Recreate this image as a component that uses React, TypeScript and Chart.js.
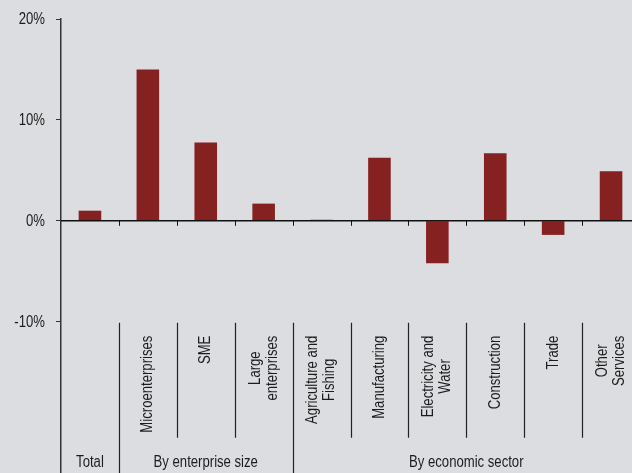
import { useEffect, useRef } from 'react';
import { Chart, registerables } from 'chart.js';

Chart.register(...registerables);

// Real growth by segment, in percent
const categories = [
  'Total',
  'Microenterprises',
  'SME',
  'Large enterprises',
  'Agriculture and Fishing',
  'Manufacturing',
  'Electricity and Water',
  'Construction',
  'Trade',
  'Other Services',
];
const growth = [1.0, 15.0, 7.75, 1.7, 0.1, 6.25, -4.2, 6.7, -1.4, 4.9];

// Rotated labels written under each bar (the total has none)
const axisLabelLines = [
  [],
  ['Microenterprises'],
  ['SME'],
  ['Large', 'enterprises'],
  ['Agriculture and', 'Fishing'],
  ['Manufacturing'],
  ['Electricity and', 'Water'],
  ['Construction'],
  ['Trade'],
  ['Other', 'Services'],
];

// Grouping row at the bottom: name, first and last category index
const groupNames = ['Total', 'By enterprise size', 'By economic sector'];
const groupFirst = [0, 1, 4];
const groupLast = [0, 3, 9];

const yTicks = [-10, 0, 10, 20];
const yMin = -25;
const yMax = 20;

// Liberation Sans squeezed horizontally, giving a narrow face
const FONT = '"Liberation Sans", Arial, sans-serif';
const NARROW = 0.82;
const TEXT = '#1c1c1c';
const BAR = '#852121';
const BG = '#dcdde0';

function narrowText(ctx: any, text: string, x: number, y: number) {
  ctx.save();
  ctx.translate(x, y);
  ctx.scale(NARROW, 1);
  ctx.fillText(text, 0, 0);
  ctx.restore();
}

const categoryAxis = {
  id: 'categoryAxis',
  afterDraw(chart: any) {
    const ctx = chart.ctx;
    const xs = chart.scales.x;
    const ys = chart.scales.y;
    const { left, right } = chart.chartArea;
    const n = categories.length;
    const half = (right - left) / n / 2;
    const bound = (i: number) =>
      i >= n ? right : i <= 0 ? left : xs.getPixelForValue(i) - half;
    const y0 = ys.getPixelForValue(0);
    const sepTop = ys.getPixelForValue(-10) + 1;
    const sepBottom = ys.getPixelForValue(-21.5);
    const groupStarts = new Set(groupFirst);

    ctx.save();
    // zero line and its tick marks
    ctx.strokeStyle = '#111';
    ctx.lineWidth = 1.5;
    ctx.beginPath();
    ctx.moveTo(left, y0);
    ctx.lineTo(right, y0);
    ctx.stroke();
    ctx.lineWidth = 1;
    ctx.beginPath();
    for (let i = 1; i < n; i++) {
      const bx = Math.round(bound(i)) + 0.5;
      ctx.moveTo(bx, y0);
      ctx.lineTo(bx, y0 + 5);
    }
    ctx.stroke();

    // separators in the label table
    ctx.strokeStyle = '#222';
    ctx.lineWidth = 1.2;
    ctx.beginPath();
    for (let i = 1; i < n; i++) {
      const bx = Math.round(bound(i)) + 0.5;
      ctx.moveTo(bx, sepTop);
      ctx.lineTo(bx, groupStarts.has(i) ? chart.height : sepBottom);
    }
    ctx.stroke();

    ctx.fillStyle = TEXT;
    ctx.font = `16px ${FONT}`;

    // value axis labels
    ctx.textAlign = 'right';
    ctx.textBaseline = 'middle';
    ys.ticks.forEach((t: any) => {
      narrowText(ctx, `${t.value}%`, left - 16, ys.getPixelForValue(t.value) + 1);
    });

    // rotated category labels, hanging from the same top line
    ctx.textAlign = 'center';
    const labelTop = sepTop + 13;
    const lineH = 17;
    axisLabelLines.forEach((lines, i) => {
      if (!lines.length) return;
      const w = NARROW * Math.max(...lines.map((l) => ctx.measureText(l).width));
      const cx = xs.getPixelForValue(i);
      ctx.save();
      ctx.translate(cx, labelTop + w / 2);
      ctx.rotate(-Math.PI / 2);
      lines.forEach((l, k) => {
        narrowText(ctx, l, 0, (k - (lines.length - 1) / 2) * lineH);
      });
      ctx.restore();
    });

    // group names
    ctx.textBaseline = 'alphabetic';
    groupNames.forEach((g, j) => {
      const gx = (bound(groupFirst[j]) + bound(groupLast[j] + 1)) / 2;
      narrowText(ctx, g, gx, chart.height - 6);
    });
    ctx.restore();
  },
};

export default function App() {
  const ref = useRef<HTMLCanvasElement>(null);

  useEffect(() => {
    if (!ref.current) return;
    const chart = new Chart(ref.current, {
      type: 'bar',
      data: {
        labels: categories,
        datasets: [
          {
            data: growth,
            backgroundColor: BAR,
            borderWidth: 0,
            barPercentage: 0.39,
            categoryPercentage: 1,
          },
        ],
      },
      options: {
        animation: false,
        responsive: false,
        layout: { padding: { top: 19, right: 0, bottom: 0, left: 0 } },
        plugins: {
          legend: { display: false },
          tooltip: { enabled: false },
        },
        scales: {
          x: { display: false },
          y: {
            min: yMin,
            max: yMax,
            afterBuildTicks: (s: any) => {
              s.ticks = yTicks.map((v) => ({ value: v }));
            },
            afterFit: (s: any) => {
              s.width = 61;
              s.paddingTop = 0;
              s.paddingBottom = 0;
            },
            ticks: { display: false },
            grid: {
              drawOnChartArea: false,
              drawTicks: true,
              tickLength: 5,
              color: '#333',
              tickWidth: 1,
            },
            border: { display: true, color: '#333', width: 1.5 },
          },
        },
      },
      plugins: [categoryAxis],
    });
    return () => chart.destroy();
  }, []);

  return (
    <div
      style={{
        position: 'fixed',
        left: 0,
        top: 0,
        width: 632,
        height: 473,
        overflow: 'hidden',
        background: BG,
      }}
    >
      <canvas ref={ref} width={640} height={473} style={{ display: 'block' }} />
    </div>
  );
}
